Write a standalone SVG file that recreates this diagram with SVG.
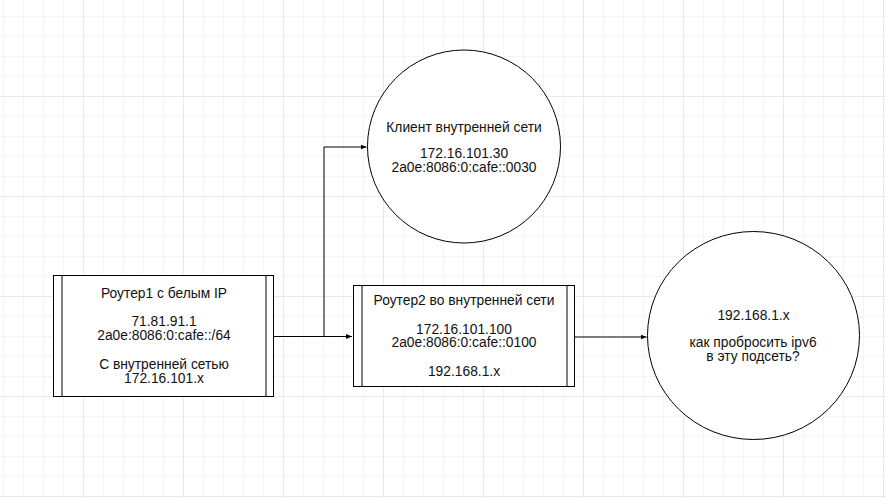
<svg xmlns="http://www.w3.org/2000/svg" width="886" height="498" viewBox="0 0 886 498">
<style>
.t{font-family:"Liberation Sans",Arial,sans-serif;font-size:13.8px;fill:#111;text-anchor:middle}
.box{fill:#fff;stroke:#000;stroke-width:1}
.inner{stroke:#000;stroke-width:1;fill:none}
.circ{fill:#fff;stroke:#000;stroke-width:1}
.edge{fill:none;stroke:#000;stroke-width:1}
</style>
<defs>
<pattern id="grid" patternUnits="userSpaceOnUse" x="83" y="96" width="100" height="100">
<path d="M20.5 0V100M40.5 0V100M60.5 0V100M80.5 0V100M0 20.5H100M0 40.5H100M0 60.5H100M0 80.5H100" stroke="#f4f4f4" stroke-width="1" fill="none"/>
<path d="M0.5 0V100M0 0.5H100" stroke="#e9e9e9" stroke-width="1" fill="none"/>
</pattern>
<marker id="arr" markerUnits="userSpaceOnUse" markerWidth="8" markerHeight="8" refX="6" refY="3" orient="auto">
<path d="M0 0.5L6 3L0 5.5Z" fill="#000"/>
</marker>
</defs>
<rect width="886" height="498" fill="#fff"/>
<rect width="886" height="498" fill="url(#grid)"/>
<g id="connectors">
<path class="edge" d="M274 336.5H352" marker-end="url(#arr)"/>
<path class="edge" d="M274 336.5H324V147H366.5" marker-end="url(#arr)"/>
<path class="edge" d="M575 337H646.5" marker-end="url(#arr)"/>
</g>
<g id="router1">
<rect class="box" x="53.5" y="275.5" width="220" height="121"/>
<path class="inner" d="M62 276V396M266 276V396"/>
<text class="t" x="164" y="298">Роутер1 с белым IP</text>
<text class="t" x="164" y="325.5">71.81.91.1</text>
<text class="t" x="164" y="340">2a0e:8086:0:cafe::/64</text>
<text class="t" x="164" y="368.5">С внутренней сетью</text>
<text class="t" x="164" y="382.5">172.16.101.x</text>
</g>
<g id="router2">
<rect class="box" x="353.5" y="285.5" width="221" height="101"/>
<path class="inner" d="M362 286V386M567 286V386"/>
<text class="t" x="464" y="305">Роутер2 во внутренней сети</text>
<text class="t" x="464" y="333.5">172.16.101.100</text>
<text class="t" x="464" y="347">2a0e:8086:0:cafe::0100</text>
<text class="t" x="464" y="375.5">192.168.1.x</text>
</g>
<g id="client">
<circle class="circ" cx="464" cy="146.5" r="96.5"/>
<text class="t" x="464" y="131.5">Клиент внутренней сети</text>
<text class="t" x="464" y="158">172.16.101.30</text>
<text class="t" x="464" y="171.5">2a0e:8086:0:cafe::0030</text>
</g>
<g id="subnet">
<ellipse class="circ" cx="753.5" cy="335.5" rx="106" ry="104"/>
<text class="t" x="753.5" y="319.5">192.168.1.x</text>
<text class="t" x="753" y="347">как пробросить ipv6</text>
<text class="t" x="753" y="361">в эту подсеть?</text>
</g>
</svg>
